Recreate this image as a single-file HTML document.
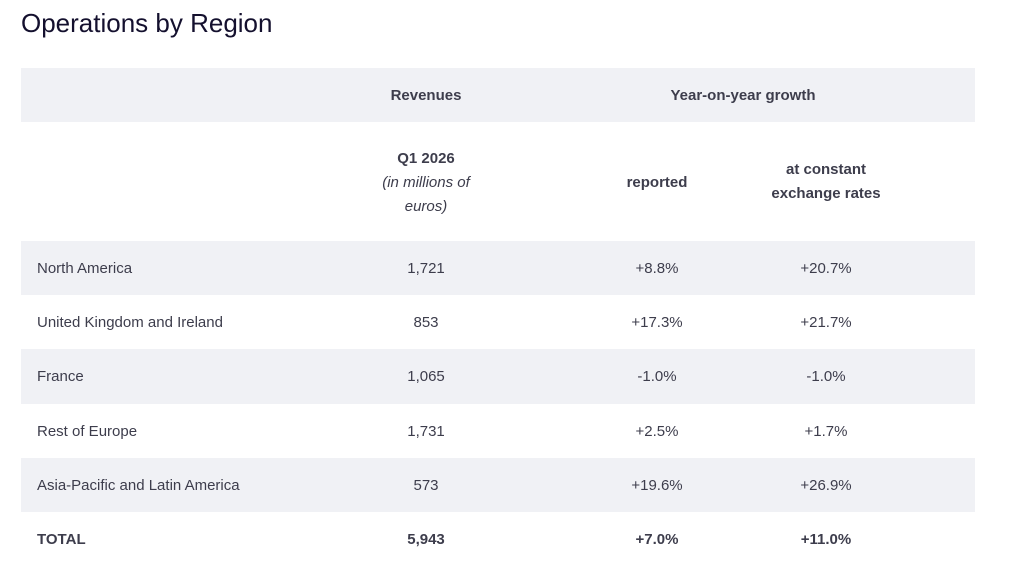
<!DOCTYPE html>
<html><head><meta charset="utf-8"><style>
body{margin:0;width:1023px;height:565px;background:#fff;font-family:"Liberation Sans",sans-serif;color:#3d3d4c;overflow:hidden;position:relative}
h1{position:absolute;left:21px;top:8px;margin:0;font-weight:normal;font-size:26px;color:#14102e}
.r{position:absolute;left:21px;width:954px}
.g{background:#f0f1f5}
.c{position:absolute;text-align:center;font-size:15px;line-height:24px;transform:translateX(-50%);white-space:nowrap}
.l{position:absolute;left:16px;font-size:15px;line-height:24px}
b{font-weight:bold}
</style></head><body>
<h1>Operations by Region</h1>
<div class="r g" style="top:68px;height:54px">
 <div class="c" style="left:405px;top:16px;font-weight:bold">Revenues</div>
 <div class="c" style="left:722px;top:16px;font-weight:bold">Year-on-year growth</div>
</div>
<div class="r" style="top:122px;height:119px">
 <div class="c" style="left:405px;top:25px"><b>Q1 2026</b><br><i>(in millions of<br>euros)</i></div>
 <div class="c" style="left:636px;top:49px;font-weight:bold">reported</div>
 <div class="c" style="left:805px;top:36px;font-weight:bold">at constant<br>exchange rates</div>
</div>
<div class="r g" style="top:241px;height:54px"><div class="l" style="top:16px">North America</div><div class="c" style="left:405px;top:16px">1,721</div><div class="c" style="left:636px;top:16px">+8.8%</div><div class="c" style="left:805px;top:16px">+20.7%</div></div>
<div class="r" style="top:295px;height:54px"><div class="l" style="top:16px">United Kingdom and Ireland</div><div class="c" style="left:405px;top:16px">853</div><div class="c" style="left:636px;top:16px">+17.3%</div><div class="c" style="left:805px;top:16px">+21.7%</div></div>
<div class="r g" style="top:349px;height:55px"><div class="l" style="top:16px">France</div><div class="c" style="left:405px;top:16px">1,065</div><div class="c" style="left:636px;top:16px">-1.0%</div><div class="c" style="left:805px;top:16px">-1.0%</div></div>
<div class="r" style="top:404px;height:54px"><div class="l" style="top:16px">Rest of Europe</div><div class="c" style="left:405px;top:16px">1,731</div><div class="c" style="left:636px;top:16px">+2.5%</div><div class="c" style="left:805px;top:16px">+1.7%</div></div>
<div class="r g" style="top:458px;height:54px"><div class="l" style="top:16px">Asia-Pacific and Latin America</div><div class="c" style="left:405px;top:16px">573</div><div class="c" style="left:636px;top:16px">+19.6%</div><div class="c" style="left:805px;top:16px">+26.9%</div></div>
<div class="r" style="top:512px;height:53px;font-weight:bold"><div class="l" style="top:16px">TOTAL</div><div class="c" style="left:405px;top:16px">5,943</div><div class="c" style="left:636px;top:16px">+7.0%</div><div class="c" style="left:805px;top:16px">+11.0%</div></div>
</body></html>
